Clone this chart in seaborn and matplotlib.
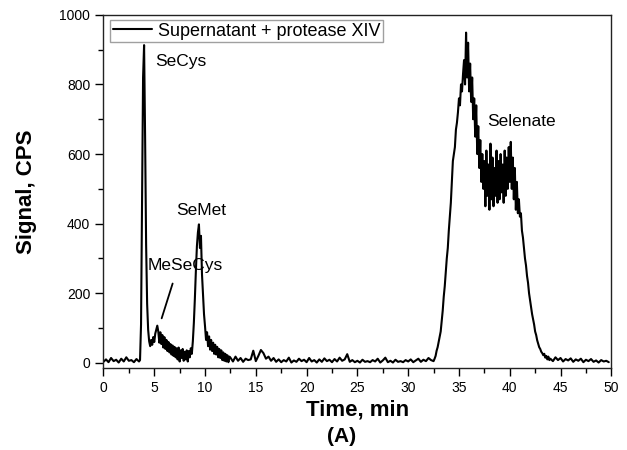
import numpy as np
import pandas as pd
import matplotlib
matplotlib.use('Agg')
import matplotlib.pyplot as plt
import seaborn as sns
from matplotlib.ticker import MultipleLocator

# sampling times for each stretch of the chromatogram (min)
time_early = np.round(np.arange(0.0, 3.5, 0.25), 2)
time_peaks = np.round(np.arange(3.5, 12.45, 0.1), 2)
time_mid = np.round(np.arange(12.5, 32.45, 0.25), 2)
time_sel = np.round(np.arange(32.5, 43.95, 0.1), 2)
time_late = np.round(np.arange(44.0, 49.95, 0.25), 2)

# signal (CPS)
signal_early = [3, 10, 2, 14, 5, 9, 1, 12, 4, 16, 6, 8, 2, 11]
signal_peaks = [
    4, 8, 110, 470, 820, 913, 650, 340, 170, 95,
    62, 48, 66, 52, 74, 60, 84, 96, 107, 90,
    58, 88, 54, 80, 44, 74, 40, 66, 34, 60,
    30, 54, 24, 50, 20, 46, 16, 42, 10, 44,
    4, 36, 14, 40, 6, 32, 10, 36, 4, 34,
    16, 42, 26, 62, 115, 185, 265, 335, 375, 398,
    330, 365, 255, 200, 140, 105, 66, 88, 48, 76,
    38, 66, 34, 58, 26, 52, 24, 46, 16, 40,
    14, 36, 8, 30, 6, 26, 4, 22, 2, 18,
]
signal_mid = [
    15, 4, 18, 6, 14, 3, 12, 8, 10, 35,
    5, 20, 37, 28, 12, 18, 6, 14, 3, 10,
    2, 8, 4, 15, 1, 7, 3, 12, 5, 9,
    2, 14, 4, 8, 1, 10, 3, 13, 5, 9,
    2, 11, 4, 15, 6, 10, 25, 3, 8, 2,
    6, 1, 9, 3, 5, 2, 8, 4, 12, 1,
    7, 15, 2, 6, 1, 9, 3, 5, 2, 8,
    4, 10, 2, 7, 12, 3, 9, 5, 14, 8,
]
signal_sel = [
    5, 12, 20, 35, 45, 60, 75, 90, 120, 150,
    190, 220, 260, 300, 330, 380, 420, 460, 520, 580,
    600, 620, 670, 690, 720, 760, 740, 800, 780, 830,
    870, 800, 949, 820, 920, 780, 860, 750, 820, 700,
    760, 650, 740, 600, 680, 560, 640, 520, 600, 500,
    580, 450, 610, 480, 570, 440, 630, 470, 590, 450,
    560, 480, 610, 460, 580, 470, 600, 490, 570, 460,
    610, 480, 590, 500, 620, 520, 635, 500, 590, 470,
    560, 440, 520, 430, 470, 420, 430, 380, 360, 330,
    300, 280, 250, 230, 200, 180, 160, 140, 125, 110,
    90, 80, 65, 55, 45, 40, 32, 28, 22, 26,
    15, 20, 10, 18, 8,
]
signal_late = [12, 5, 16, 8, 14, 4, 11, 7, 13, 3, 10, 6,
               12, 2, 9, 5, 11, 3, 7, 1, 8, 4, 6, 2]

df = pd.DataFrame({
    'time': np.concatenate([time_early, time_peaks, time_mid, time_sel, time_late]),
    'signal': np.concatenate([signal_early, signal_peaks, signal_mid, signal_sel, signal_late]),
})

peak_names = ['SeCys', 'MeSeCys', 'SeMet', 'Selenate']
peak_label_x = [5.07, 4.35, 7.2, 37.8]
peak_label_y = [865, 281, 437, 693]

sns.set_style('ticks')
plt.rcParams['font.family'] = ['Liberation Sans', 'DejaVu Sans']
plt.rcParams['text.color'] = 'black'
plt.rcParams['xtick.color'] = 'black'
plt.rcParams['ytick.color'] = 'black'
plt.rcParams['axes.labelcolor'] = 'black'

fig = plt.figure(figsize=(6.27, 4.5), dpi=100)
ax = fig.add_axes([0.165, 0.182, 0.810, 0.785])

sns.lineplot(data=df, x='time', y='signal', color='black', lw=1.5,
             sort=False, label='Supernatant + protease XIV', ax=ax)

for name, tx, ty in zip(peak_names, peak_label_x, peak_label_y):
    ax.text(tx, ty, name, fontsize=12.5, ha='left', va='center')
ax.plot([6.81, 5.73], [228, 128], color='black', lw=1.3)

ax.set_xlim(0, 50)
ax.set_ylim(-15, 1000)
ax.xaxis.set_major_locator(MultipleLocator(5))
ax.xaxis.set_minor_locator(MultipleLocator(2.5))
ax.yaxis.set_major_locator(MultipleLocator(200))
ax.yaxis.set_minor_locator(MultipleLocator(100))
ax.tick_params(which='major', length=6, width=1, labelsize=10, direction='out')
ax.tick_params(which='minor', length=3.5, width=1, direction='out')
for s in ax.spines.values():
    s.set_linewidth(1)
    s.set_color('#222222')

ax.set_xlabel('Time, min', fontsize=16, fontweight='bold', labelpad=3)
ax.set_ylabel('Signal, CPS', fontsize=16, fontweight='bold', labelpad=16)
fig.text(0.544, 0.031, '(A)', fontsize=15, fontweight='bold', ha='center', va='center')

leg = ax.legend(loc='upper left', bbox_to_anchor=(0.013, 0.986), borderaxespad=0,
                fontsize=13, frameon=True, fancybox=False, handlelength=2.2,
                handletextpad=0.3, borderpad=0.15)
leg.get_frame().set_edgecolor('#888888')
leg.get_frame().set_linewidth(1)
leg.get_lines()[0].set_linewidth(1.5)

fig.savefig('out.png', dpi=100)
